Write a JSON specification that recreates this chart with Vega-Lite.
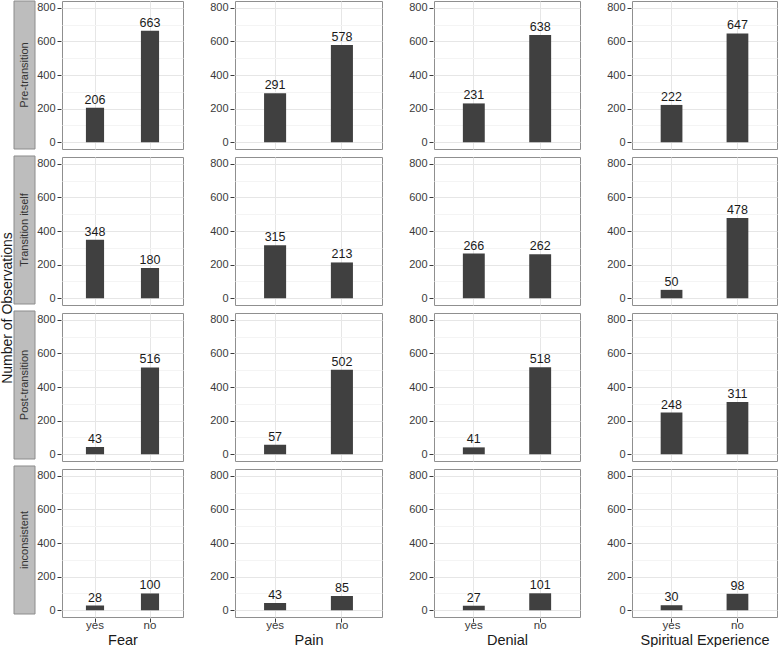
{
  "$schema": "https://vega.github.io/schema/vega-lite/v6.json",
  "padding": {"left": 0, "top": 0, "right": 0, "bottom": 0},
  "background": "white",
  "data": {"values": [
    {"phase": "Pre-transition", "category": "Fear", "answer": "yes", "n": 206},
    {"phase": "Pre-transition", "category": "Fear", "answer": "no", "n": 663},
    {"phase": "Pre-transition", "category": "Pain", "answer": "yes", "n": 291},
    {"phase": "Pre-transition", "category": "Pain", "answer": "no", "n": 578},
    {"phase": "Pre-transition", "category": "Denial", "answer": "yes", "n": 231},
    {"phase": "Pre-transition", "category": "Denial", "answer": "no", "n": 638},
    {"phase": "Pre-transition", "category": "Spiritual Experience", "answer": "yes", "n": 222},
    {"phase": "Pre-transition", "category": "Spiritual Experience", "answer": "no", "n": 647},
    {"phase": "Transition itself", "category": "Fear", "answer": "yes", "n": 348},
    {"phase": "Transition itself", "category": "Fear", "answer": "no", "n": 180},
    {"phase": "Transition itself", "category": "Pain", "answer": "yes", "n": 315},
    {"phase": "Transition itself", "category": "Pain", "answer": "no", "n": 213},
    {"phase": "Transition itself", "category": "Denial", "answer": "yes", "n": 266},
    {"phase": "Transition itself", "category": "Denial", "answer": "no", "n": 262},
    {"phase": "Transition itself", "category": "Spiritual Experience", "answer": "yes", "n": 50},
    {"phase": "Transition itself", "category": "Spiritual Experience", "answer": "no", "n": 478},
    {"phase": "Post-transition", "category": "Fear", "answer": "yes", "n": 43},
    {"phase": "Post-transition", "category": "Fear", "answer": "no", "n": 516},
    {"phase": "Post-transition", "category": "Pain", "answer": "yes", "n": 57},
    {"phase": "Post-transition", "category": "Pain", "answer": "no", "n": 502},
    {"phase": "Post-transition", "category": "Denial", "answer": "yes", "n": 41},
    {"phase": "Post-transition", "category": "Denial", "answer": "no", "n": 518},
    {"phase": "Post-transition", "category": "Spiritual Experience", "answer": "yes", "n": 248},
    {"phase": "Post-transition", "category": "Spiritual Experience", "answer": "no", "n": 311},
    {"phase": "inconsistent", "category": "Fear", "answer": "yes", "n": 28},
    {"phase": "inconsistent", "category": "Fear", "answer": "no", "n": 100},
    {"phase": "inconsistent", "category": "Pain", "answer": "yes", "n": 43},
    {"phase": "inconsistent", "category": "Pain", "answer": "no", "n": 85},
    {"phase": "inconsistent", "category": "Denial", "answer": "yes", "n": 27},
    {"phase": "inconsistent", "category": "Denial", "answer": "no", "n": 101},
    {"phase": "inconsistent", "category": "Spiritual Experience", "answer": "yes", "n": 30},
    {"phase": "inconsistent", "category": "Spiritual Experience", "answer": "no", "n": 98}
  ]},
  "config": {
    "font": "Liberation Sans",
    "view": {"stroke": "#8f8f8f", "strokeWidth": 1},
    "axis": {
      "labelFont": "Liberation Sans",
      "labelFontSize": 11,
      "labelColor": "#3a3a3a",
      "tickColor": "#3a3a3a",
      "tickSize": 4,
      "labelPadding": 1,
      "domain": false,
      "gridColor": "#e6e6e6",
      "titleFont": "Liberation Sans",
      "titleFontWeight": "normal",
      "titleColor": "#1a1a1a"
    }
  },
  "hconcat": [
    {
      "hconcat": [
        {
          "width": 21,
          "height": 613,
          "view": {"stroke": null},
          "transform": [{"filter": "datum.category === 'Fear' && datum.answer === 'yes'"}],
          "layer": [
            {
              "mark": {"type": "rect", "fill": "#bdbdbd", "stroke": "#8c8c8c", "strokeWidth": 1},
              "encoding": {
                "y": {"field": "phase", "type": "nominal", "sort": ["Pre-transition", "Transition itself", "Post-transition", "inconsistent"],
                      "scale": {"paddingInner": 0.04516, "paddingOuter": 0},
                      "axis": {"title": "Number of Observations", "labels": false, "ticks": false, "domain": false, "grid": false, "titleFontSize": 14, "titlePadding": 0}},
                "x": {"datum": 0, "type": "quantitative", "scale": {"domain": [0, 1], "nice": false}, "axis": null},
                "x2": {"datum": 1}
              }
            },
            {
              "mark": {"type": "text", "angle": 270, "fontSize": 11, "color": "#333333"},
              "encoding": {
                "y": {"field": "phase", "type": "nominal", "sort": ["Pre-transition", "Transition itself", "Post-transition", "inconsistent"]},
                "x": {"datum": 0.5, "type": "quantitative"},
                "text": {"field": "phase"}
              }
            }
          ]
        },
        {
          "transform": [{"filter": "datum.category === 'Fear'"}],
          "facet": {"row": {"field": "phase", "type": "nominal", "sort": ["Pre-transition", "Transition itself", "Post-transition", "inconsistent"], "header": {"labels": false, "title": null}}},
          "spacing": 6,
          "spec": {
            "width": 121,
            "height": 148,
            "layer": [
              {
                "mark": {"type": "bar", "color": "#404040"},
                "encoding": {
                  "x": {"field": "answer", "type": "nominal", "sort": ["yes", "no"], "scale": {"paddingInner": 0.67, "paddingOuter": 0.435},
                        "axis": {"title": "Fear", "grid": true, "bandPosition": 0.5, "labelAngle": 0, "titleFontSize": 14.5, "titlePadding": 3, "labelPadding": -3, "labelFontSize": 11.5}},
                  "y": {"field": "n", "type": "quantitative", "scale": {"domain": [-40, 840], "nice": false, "zero": false},
                        "axis": {"values": [0, 200, 400, 600, 800], "title": null, "grid": true, "labelPadding": 2}},
                  "y2": {"datum": 0}
                }
              },
              {
                "mark": {"type": "text", "baseline": "bottom", "dy": -1, "fontSize": 12.5, "color": "#1a1a1a"},
                "encoding": {
                  "x": {"field": "answer", "type": "nominal", "sort": ["yes", "no"]},
                  "y": {"field": "n", "type": "quantitative", "axis": {"values": [100, 300, 500, 700], "labels": false, "ticks": false, "title": null, "grid": true, "gridColor": "#f4f4f4", "orient": "right"}},
                  "text": {"field": "n"}
                }
              }
            ],
            "resolve": {"axis": {"y": "independent"}}
          }
        }
      ],
      "spacing": 0
    },
    {
      "transform": [{"filter": "datum.category === 'Pain'"}],
      "facet": {"row": {"field": "phase", "type": "nominal", "sort": ["Pre-transition", "Transition itself", "Post-transition", "inconsistent"], "header": {"labels": false, "title": null}}},
      "spacing": 6,
      "spec": {
        "width": 147,
        "height": 148,
        "layer": [
          {
            "mark": {"type": "bar", "color": "#404040"},
            "encoding": {
              "x": {"field": "answer", "type": "nominal", "sort": ["yes", "no"], "scale": {"paddingInner": 0.67, "paddingOuter": 0.435},
                    "axis": {"title": "Pain", "grid": true, "bandPosition": 0.5, "labelAngle": 0, "titleFontSize": 14.5, "titlePadding": 3, "labelPadding": -3, "labelFontSize": 11.5}},
              "y": {"field": "n", "type": "quantitative", "scale": {"domain": [-40, 840], "nice": false, "zero": false},
                    "axis": {"values": [0, 200, 400, 600, 800], "title": null, "grid": true, "labelPadding": 2}},
              "y2": {"datum": 0}
            }
          },
          {
            "mark": {"type": "text", "baseline": "bottom", "dy": -1, "fontSize": 12.5, "color": "#1a1a1a"},
            "encoding": {
              "x": {"field": "answer", "type": "nominal", "sort": ["yes", "no"]},
              "y": {"field": "n", "type": "quantitative", "axis": {"values": [100, 300, 500, 700], "labels": false, "ticks": false, "title": null, "grid": true, "gridColor": "#f4f4f4", "orient": "right"}},
              "text": {"field": "n"}
            }
          }
        ],
        "resolve": {"axis": {"y": "independent"}}
      }
    },
    {
      "transform": [{"filter": "datum.category === 'Denial'"}],
      "facet": {"row": {"field": "phase", "type": "nominal", "sort": ["Pre-transition", "Transition itself", "Post-transition", "inconsistent"], "header": {"labels": false, "title": null}}},
      "spacing": 6,
      "spec": {
        "width": 146,
        "height": 148,
        "layer": [
          {
            "mark": {"type": "bar", "color": "#404040"},
            "encoding": {
              "x": {"field": "answer", "type": "nominal", "sort": ["yes", "no"], "scale": {"paddingInner": 0.67, "paddingOuter": 0.435},
                    "axis": {"title": "Denial", "grid": true, "bandPosition": 0.5, "labelAngle": 0, "titleFontSize": 14.5, "titlePadding": 3, "labelPadding": -3, "labelFontSize": 11.5}},
              "y": {"field": "n", "type": "quantitative", "scale": {"domain": [-40, 840], "nice": false, "zero": false},
                    "axis": {"values": [0, 200, 400, 600, 800], "title": null, "grid": true, "labelPadding": 2}},
              "y2": {"datum": 0}
            }
          },
          {
            "mark": {"type": "text", "baseline": "bottom", "dy": -1, "fontSize": 12.5, "color": "#1a1a1a"},
            "encoding": {
              "x": {"field": "answer", "type": "nominal", "sort": ["yes", "no"]},
              "y": {"field": "n", "type": "quantitative", "axis": {"values": [100, 300, 500, 700], "labels": false, "ticks": false, "title": null, "grid": true, "gridColor": "#f4f4f4", "orient": "right"}},
              "text": {"field": "n"}
            }
          }
        ],
        "resolve": {"axis": {"y": "independent"}}
      }
    },
    {
      "transform": [{"filter": "datum.category === 'Spiritual Experience'"}],
      "facet": {"row": {"field": "phase", "type": "nominal", "sort": ["Pre-transition", "Transition itself", "Post-transition", "inconsistent"], "header": {"labels": false, "title": null}}},
      "spacing": 6,
      "spec": {
        "width": 145,
        "height": 148,
        "layer": [
          {
            "mark": {"type": "bar", "color": "#404040"},
            "encoding": {
              "x": {"field": "answer", "type": "nominal", "sort": ["yes", "no"], "scale": {"paddingInner": 0.67, "paddingOuter": 0.435},
                    "axis": {"title": "Spiritual Experience", "grid": true, "bandPosition": 0.5, "labelAngle": 0, "titleFontSize": 14.5, "titlePadding": 3, "labelPadding": -3, "labelFontSize": 11.5}},
              "y": {"field": "n", "type": "quantitative", "scale": {"domain": [-40, 840], "nice": false, "zero": false},
                    "axis": {"values": [0, 200, 400, 600, 800], "title": null, "grid": true, "labelPadding": 2}},
              "y2": {"datum": 0}
            }
          },
          {
            "mark": {"type": "text", "baseline": "bottom", "dy": -1, "fontSize": 12.5, "color": "#1a1a1a"},
            "encoding": {
              "x": {"field": "answer", "type": "nominal", "sort": ["yes", "no"]},
              "y": {"field": "n", "type": "quantitative", "axis": {"values": [100, 300, 500, 700], "labels": false, "ticks": false, "title": null, "grid": true, "gridColor": "#f4f4f4", "orient": "right"}},
              "text": {"field": "n"}
            }
          }
        ],
        "resolve": {"axis": {"y": "independent"}}
      }
    }
  ],
  "spacing": 25
}
